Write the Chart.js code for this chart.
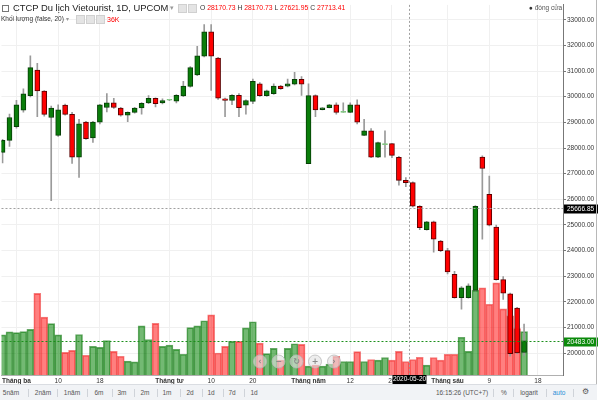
<!DOCTYPE html>
<html>
<head>
<meta charset="utf-8">
<script src="https://cdn.jsdelivr.net/npm/chart.js@4.4.0/dist/chart.umd.min.js"></script>
<style>
  body { margin: 0; background: #fff; font-family: "Liberation Sans", Arial, sans-serif; }
  #wrap { position: relative; width: 600px; height: 400px; overflow: hidden; }
  #chart { position: absolute; left: 0; top: 0; }
  .t { position: absolute; white-space: nowrap; color: #333; line-height: 1; }
  .red { color: #f00; }
  .ico { position: absolute; width: 7px; height: 7px; background: #e4e4e4; border: 1px solid #d0d0d0; }
  #bar { position: absolute; left: 0; top: 384px; width: 597px; height: 16px; background: #f1f3f6; border-top: 1px solid #dadde2; }
  #bar .t { top: 5px; font-size: 6.5px; color: #555; transform: translateX(-50%); }
  #bar .sep { position: absolute; top: 4px; width: 1px; height: 8px; background: #cfd3d9; }
</style>
</head>
<body>
<div id="wrap">
  <canvas id="chart" width="600" height="400"></canvas>

  <div style="position:absolute;left:2px;top:5px;width:5px;height:5px;border:1px solid #777;"></div>
  <div class="t" style="left:13px;top:3px;font-size:9.4px;color:#222;">CTCP Du lịch Vietourist, 1D, UPCOM</div>
  <div class="t" style="left:170px;top:4px;font-size:7px;color:#999;">▾</div>
  <div class="ico" style="left:178px;top:4px;"></div>
  <div class="ico" style="left:188px;top:4px;"></div>
  <div class="t" style="left:200px;top:5px;font-size:6.8px;">O <span class="red">28170.73</span> H <span class="red">28170.73</span> L <span class="red">27621.95</span> C <span class="red">27713.41</span></div>

  <div class="t" style="left:1px;top:16px;font-size:6.5px;">Khối lượng (false, 20)</div>
  <div class="t" style="left:66px;top:16px;font-size:6px;color:#999;">▾</div>
  <div class="ico" style="left:76px;top:15px;"></div>
  <div class="ico" style="left:86px;top:15px;"></div>
  <div class="ico" style="left:96px;top:15px;"></div>
  <div class="t red" style="left:107px;top:16px;font-size:7px;">36K</div>

  <div class="t" style="left:529px;top:5px;font-size:6.5px;color:#555;"><span style="color:#333">●</span> đóng cửa</div>

  <div style="position:absolute;left:596px;top:0;width:1px;height:384px;background:#b8b8b8;"></div>

  <div id="bar">
    <span class="t" style="left:11px;">5năm</span><span class="sep" style="left:28px;"></span>
    <span class="t" style="left:43px;">2năm</span><span class="sep" style="left:57px;"></span>
    <span class="t" style="left:72px;">1năm</span><span class="sep" style="left:87px;"></span>
    <span class="t" style="left:99px;">6m</span><span class="sep" style="left:112px;"></span>
    <span class="t" style="left:122px;">3m</span><span class="sep" style="left:134px;"></span>
    <span class="t" style="left:145px;">2m</span><span class="sep" style="left:157px;"></span>
    <span class="t" style="left:167px;">1m</span><span class="sep" style="left:180px;"></span>
    <span class="t" style="left:190px;">2d</span><span class="sep" style="left:202px;"></span>
    <span class="t" style="left:211px;">1d</span><span class="sep" style="left:223px;"></span>
    <span class="t" style="left:232px;">7d</span><span class="sep" style="left:244px;"></span>
    <span class="t" style="left:254px;">1d</span>

    <span class="t" style="left:462px;">16:15:26 (UTC+7)</span><span class="sep" style="left:493px;"></span>
    <span class="t" style="left:504px;">%</span><span class="sep" style="left:513px;"></span>
    <span class="t" style="left:529px;">logarit</span><span class="sep" style="left:546px;"></span>
    <span class="t" style="left:559px;color:#2a8fd6;">auto</span><span class="sep" style="left:573px;"></span>
    <span class="t" style="left:585px;font-size:8px;top:3px;">⚙</span>
  </div>
</div>

<script>
// trading days (index = position on the x axis)
const dates = [
  "2020-02-27","2020-02-28","2020-03-02","2020-03-03","2020-03-04","2020-03-05","2020-03-06","2020-03-09","2020-03-10","2020-03-11",
  "2020-03-12","2020-03-13","2020-03-16","2020-03-17","2020-03-18","2020-03-19","2020-03-20","2020-03-23","2020-03-24","2020-03-25",
  "2020-03-26","2020-03-27","2020-03-30","2020-03-31","2020-04-01","2020-04-03","2020-04-06","2020-04-07","2020-04-08","2020-04-09",
  "2020-04-10","2020-04-13","2020-04-14","2020-04-15","2020-04-16","2020-04-17","2020-04-20","2020-04-21","2020-04-22","2020-04-23",
  "2020-04-24","2020-04-27","2020-04-28","2020-04-29","2020-05-04","2020-05-05","2020-05-06","2020-05-07","2020-05-08","2020-05-11",
  "2020-05-12","2020-05-13","2020-05-14","2020-05-15","2020-05-18","2020-05-19","2020-05-20","2020-05-21","2020-05-22","2020-05-25",
  "2020-05-26","2020-05-27","2020-05-28","2020-05-29","2020-06-01","2020-06-02","2020-06-03","2020-06-04","2020-06-05","2020-06-08",
  "2020-06-09","2020-06-10","2020-06-11","2020-06-12","2020-06-15","2020-06-16"
];

const openP = [
  27830,28295,28830,29470,30040,31040,30220,29190,28490,29670,
  29310,27640,29010,28390,29010,29580,29760,29560,29280,29390,
  29560,29760,29940,29760,29860,29830,30030,30400,30850,31580,
  32530,31500,29920,29850,30050,29670,29820,30500,30040,30120,
  30410,30410,30490,30680,27390,30040,29490,29570,29680,29390,
  29390,29680,28490,28670,27640,28130,28170.73,27640,26740,26650,
  25730,24820,25120,24370,24000,23080,22170,22170,22450,27650,
  26190,24920,22870,22320,21760,20030
];
const highP = [
  28340,29320,29860,30310,31590,31300,30240,29630,29680,29710,
  29390,29120,29040,29040,29700,30120,29940,29590,29410,29590,
  29770,30040,29960,29920,29880,30080,30600,31170,31960,32810,
  32810,31530,29950,30080,30120,29880,30690,30550,30260,30500,
  30440,30690,30950,30780,30500,30070,29580,29700,29760,29760,
  29760,29880,29120,28760,28230,28670,28170.73,27680,26850,26680,
  25760,25140,25150,24400,24090,23190,22600,22710,25760,27700,
  26910,25000,22990,22350,21790,21140
];
const lowP = [
  27420,28060,28770,29400,29990,29220,29240,25950,28450,29280,
  27400,26850,28330,28220,28940,29410,29540,29240,29030,29360,
  29320,29730,29600,29720,29840,29760,30000,30370,30820,31550,
  30240,29890,29220,29690,29220,29320,29730,30010,30010,30090,
  30280,30380,30460,30050,27390,29220,29480,29560,29320,29390,
  29380,28940,28480,27620,27620,27640,27621.95,26550,26490,25700,
  24820,24800,23940,23960,23090,22150,21720,22150,22430,24450,
  24960,22850,22100,19890,19990,19920
];
const closeP = [
  28295,29190,29680,30115,31130,30220,29310,29560,29490,29310,
  27640,28940,28360,29010,29680,29760,29580,29280,29390,29560,
  29740,29940,29730,29850,29860,30050,30410,31130,31590,32530,
  31580,29940,29850,30050,29570,29850,30600,30040,30230,30410,
  30310,30500,30680,30490,30040,29480,29570,29680,29390,29390,
  29680,29010,28670,27640,28210,28130,27713.41,26740,26650,25730,
  24900,25120,24450,24000,23170,22170,22550,22630,25730,27200,
  24990,22870,22340,19990,20010,20483
];
const volume = [
  97700,104900,103200,105600,111100,198500,140900,124800,97700,55200,
  60000,98400,48000,69600,67200,84000,57600,45600,33600,31900,
  119300,86400,125500,69600,72700,62400,50400,115200,119300,132000,
  146400,53500,69600,81600,81600,114500,129600,77500,52100,64800,
  36000,64800,76100,74400,21600,24000,21600,26400,45600,32900,
  32900,56900,32900,37700,36000,42500,36000,57600,32900,37700,
  43200,24000,42500,36000,50400,50400,91900,57600,205700,211900,
  172100,223900,160800,144000,112800,105600
];

// x tick positions (trading-day index) and their labels
const tickIdx = [2, 8, 14, 24, 30, 36, 44, 50, 56, 64, 70, 77];
const tickText = ["Tháng ba", "10", "18", "Tháng tư", "10", "20", "Tháng năm", "12", "20", "Tháng sáu", "9", "18"];
const monthTicks = ["Tháng ba", "Tháng tư", "Tháng năm", "Tháng sáu"];
const priceTicks = [20000, 21000, 22000, 23000, 24000, 25000, 26000, 27000, 28000, 29000, 30000, 31000, 32000, 33000];

const lastPrice = 20483.00;
const crossPrice = 25666.85;
const crossIdx = 58.5;
const crossDate = "2020-05-20";

const dir = (i) => (closeP[i] > openP[i] ? 1 : closeP[i] < openP[i] ? -1 : 0);
const bodyColor = dates.map((d, i) => (dir(i) > 0 ? "#0a7d0a" : dir(i) < 0 ? "#ff0000" : "#7cc77c"));
const bodyBorder = dates.map((d, i) => (dir(i) > 0 ? "#063f06" : dir(i) < 0 ? "#5c0000" : "#7cc77c"));
const volColor = dates.map((d, i) => (dir(i) < 0 ? "rgba(255,0,0,0.5)" : "rgba(0,128,0,0.55)"));
const volBorder = dates.map((d, i) => (dir(i) < 0 ? "rgba(235,40,40,0.6)" : "rgba(0,110,0,0.6)"));

Chart.defaults.font.family = '"Liberation Sans", Arial, sans-serif';

function priceBox(ctx, left, yPix, text, bg) {
  ctx.fillStyle = bg;
  ctx.fillRect(left, Math.round(yPix) - 4.5, 34, 9);
  ctx.fillStyle = "#fff";
  ctx.font = '6.5px "Liberation Sans", Arial, sans-serif';
  ctx.textBaseline = "middle";
  ctx.textAlign = "left";
  ctx.fillText(text, left + 3, Math.round(yPix));
}

const overlay = {
  id: "overlay",
  afterDraw(chart) {
    const { ctx, chartArea: a, scales } = chart;
    const x = scales.x, y = scales.y;
    ctx.save();
    ctx.lineWidth = 1;

    // last price line
    const ly = Math.round(y.getPixelForValue(lastPrice)) + 0.5;
    ctx.strokeStyle = "#1b8f1b";
    ctx.setLineDash([2, 2]);
    ctx.beginPath(); ctx.moveTo(a.left, ly); ctx.lineTo(a.right, ly); ctx.stroke();

    // crosshair
    const cy = Math.round(y.getPixelForValue(crossPrice)) + 0.5;
    const cx = Math.round(x.getPixelForValue(crossIdx)) + 0.5;
    ctx.strokeStyle = "#a0a0a0";
    ctx.beginPath(); ctx.moveTo(a.left, cy); ctx.lineTo(a.right, cy); ctx.stroke();
    ctx.beginPath(); ctx.moveTo(cx, a.top); ctx.lineTo(cx, a.bottom); ctx.stroke();
    ctx.setLineDash([]);

    priceBox(ctx, a.right + 1, ly, lastPrice.toFixed(2), "#0b8a0b");
    priceBox(ctx, a.right + 1, cy, crossPrice.toFixed(2), "#000");

    // date box on the time axis
    ctx.fillStyle = "#000";
    ctx.fillRect(cx - 17, a.bottom, 34, 9);
    ctx.fillStyle = "#fff";
    ctx.font = '6.5px "Liberation Sans", Arial, sans-serif';
    ctx.textAlign = "center";
    ctx.textBaseline = "middle";
    ctx.fillText(crossDate, cx, a.bottom + 4.5);

    // zoom / scroll buttons
    const glyphs = ["‹", "−", "↻", "+", "›"];
    const bx = [260, 278.5, 296.5, 315, 334];
    glyphs.forEach((g, k) => {
      ctx.beginPath();
      ctx.arc(bx[k], 361.5, 6.5, 0, Math.PI * 2);
      ctx.fillStyle = "rgba(225,225,225,0.6)";
      ctx.fill();
      ctx.strokeStyle = "rgba(185,185,185,0.8)";
      ctx.stroke();
      ctx.fillStyle = "#8a8a8a";
      ctx.font = 'bold 8px "DejaVu Sans", sans-serif';
      ctx.fillText(g, bx[k], 362);
    });
    ctx.restore();
  },
};

new Chart(document.getElementById("chart"), {
  type: "bar",
  data: {
    datasets: [
      {
        label: "Khối lượng",
        data: volume.map((v, i) => ({ x: i, y: v })),
        yAxisID: "yv",
        backgroundColor: volColor,
        borderColor: volBorder,
        borderWidth: 1,
        barThickness: 7,
        grouped: false,
        order: 3,
      },
      {
        label: "wick",
        data: dates.map((d, i) => ({ x: i, y: [lowP[i], highP[i]] })),
        yAxisID: "y",
        backgroundColor: "#9a9a9a",
        barThickness: 1,
        minBarLength: 1,
        borderSkipped: false,
        grouped: false,
        order: 2,
      },
      {
        label: "body",
        data: dates.map((d, i) => ({ x: i, y: [openP[i], closeP[i]] })),
        yAxisID: "y",
        backgroundColor: bodyColor,
        borderColor: bodyBorder,
        borderWidth: 1,
        borderSkipped: false,
        barThickness: 5,
        minBarLength: 1,
        grouped: false,
        order: 1,
      },
    ],
  },
  options: {
    responsive: false,
    animation: false,
    layout: { padding: 0 },
    plugins: { legend: { display: false }, tooltip: { enabled: false } },
    scales: {
      x: {
        type: "linear",
        offset: false,
        min: -0.15,
        max: 80.6,
        afterBuildTicks: (s) => { s.ticks = tickIdx.map((v) => ({ value: v })); },
        afterFit: (s) => { s.height = 25; },
        ticks: {
          autoSkip: false,
          maxRotation: 0,
          padding: 2,
          color: "#333",
          font: (c) => ({ size: 6.5, weight: c.tick && monthTicks.includes(tickText[c.index]) ? "bold" : "normal" }),
          callback: (v, i) => tickText[i],
        },
        grid: { color: "#f0f0f0", drawTicks: false, offset: false },
        border: { display: true, color: "#b0b0b0" },
      },
      y: {
        position: "right",
        min: 19154,
        max: 33577,
        afterBuildTicks: (s) => { s.ticks = priceTicks.map((v) => ({ value: v })); },
        afterFit: (s) => { s.width = 37; },
        ticks: {
          padding: 1,
          color: "#333",
          font: { size: 6.5 },
          callback: (v) => Number(v).toFixed(2),
        },
        grid: { color: "#f0f0f0", tickLength: 3, tickColor: "#777" },
        border: { display: true, color: "#777" },
      },
      yv: {
        display: false,
        min: 0,
        max: 900000,
      },
    },
  },
  plugins: [overlay],
});
</script>
</body>
</html>
